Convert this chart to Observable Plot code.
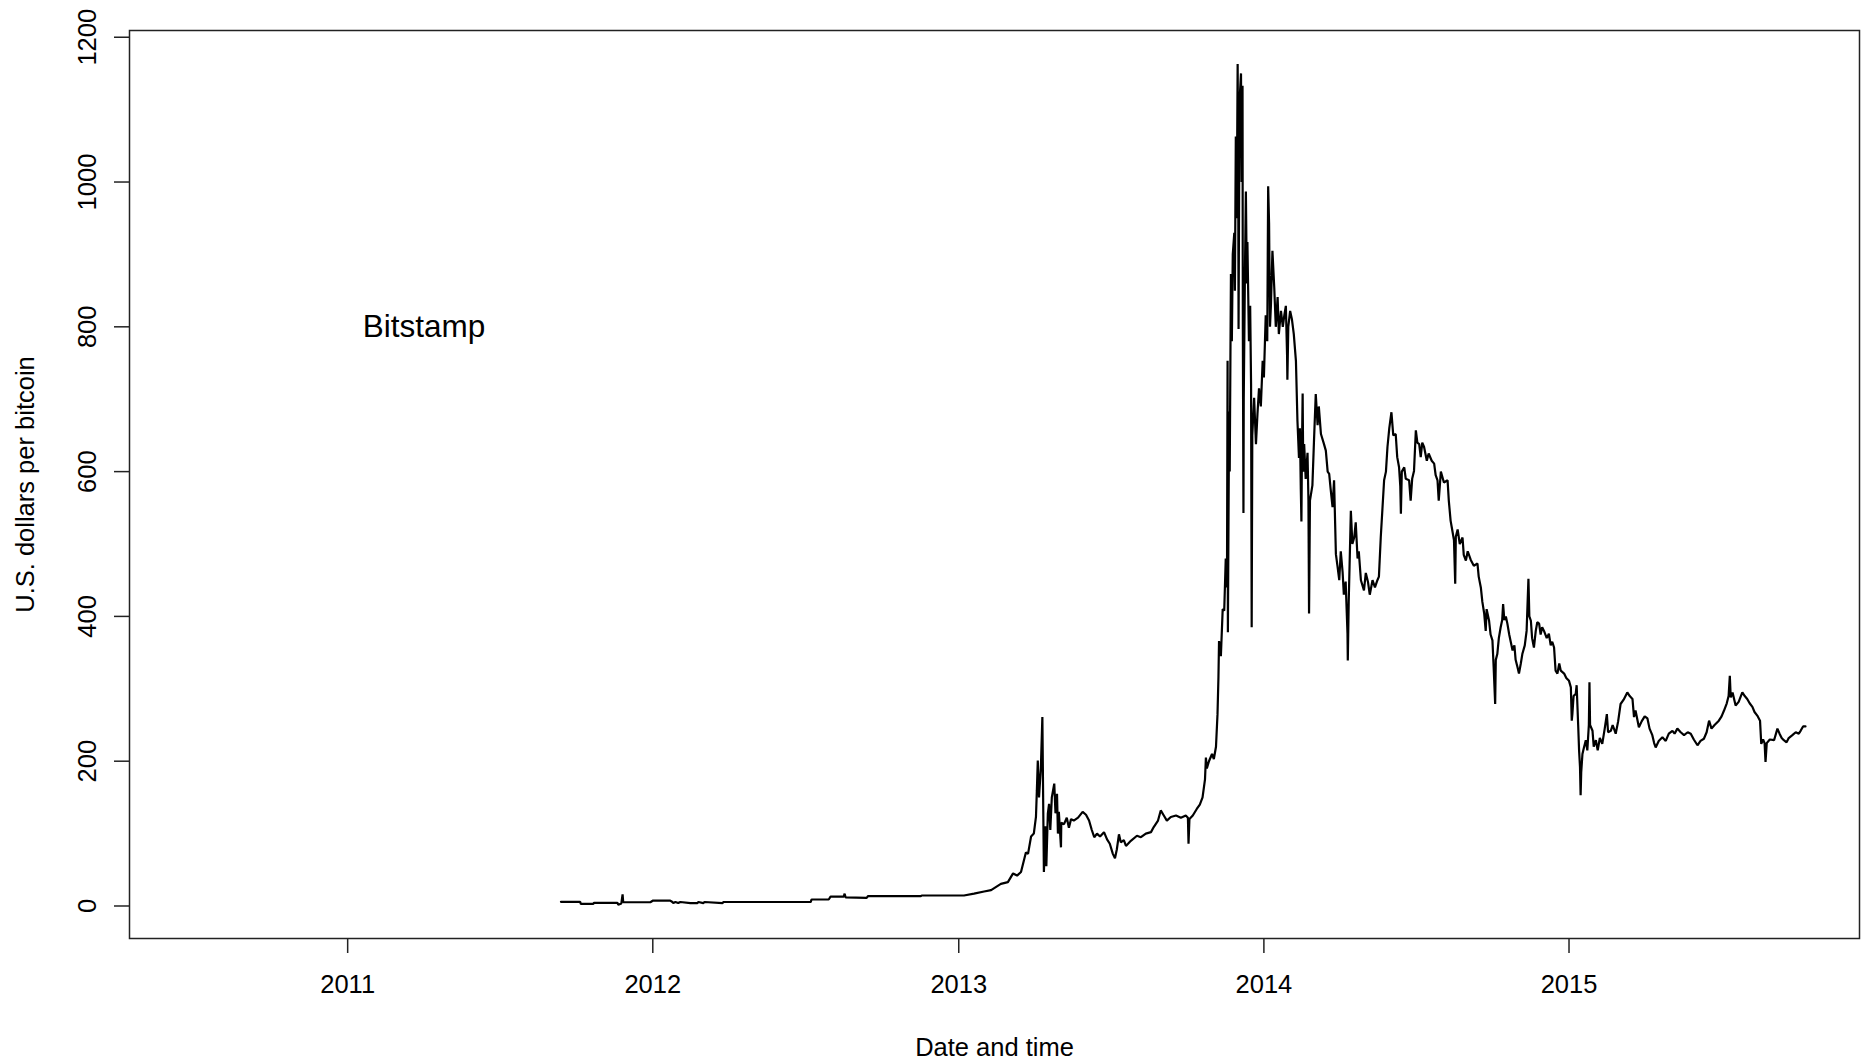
<!DOCTYPE html>
<html>
<head>
<meta charset="utf-8">
<script src="https://cdn.jsdelivr.net/npm/d3@7"></script>
<script src="https://cdn.jsdelivr.net/npm/@observablehq/plot@0.6"></script>
<style>
  html, body { margin: 0; padding: 0; background: #fff; overflow: hidden; }
</style>
</head>
<body>
<div id="chart"></div>
<script>
// Bitstamp BTC/USD price, times given as decimal years.
const t2011 = [2011.699, 2011.762, 2011.764, 2011.805, 2011.807, 2011.884, 2011.887, 2011.897, 2011.901, 2011.903, 2011.992];
const usd2011 = [5.8, 5.8, 3.0, 3.0, 4.4, 4.4, 1.8, 3.5, 16, 5.2, 5.2];

const t2012 = [2012.001, 2012.057, 2012.064, 2012.067, 2012.074, 2012.083, 2012.090, 2012.123, 2012.146, 2012.149,
  2012.165, 2012.169, 2012.228, 2012.231, 2012.516, 2012.519, 2012.575, 2012.581, 2012.624, 2012.627,
  2012.630, 2012.699, 2012.703, 2012.876, 2012.879];
const usd2012 = [7.5, 7.5, 5.5, 4.0, 5.5, 4.0, 5.5, 4.0, 4.0, 5.5,
  4.0, 5.5, 4.0, 5.5, 5.5, 9, 9, 13, 13, 17,
  12, 11.3, 13.5, 13.5, 14.5];

const t2013 = [2013.017, 2013.050, 2013.083, 2013.106, 2013.138, 2013.161, 2013.178, 2013.191, 2013.204, 2013.220,
  2013.227, 2013.237, 2013.246, 2013.253, 2013.256, 2013.259, 2013.263, 2013.269, 2013.274, 2013.277,
  2013.279, 2013.284, 2013.287, 2013.292, 2013.296, 2013.300, 2013.305, 2013.313, 2013.317, 2013.322,
  2013.325, 2013.328, 2013.335, 2013.336, 2013.345, 2013.354, 2013.361, 2013.368, 2013.377, 2013.391,
  2013.406, 2013.417, 2013.427, 2013.436, 2013.444, 2013.453, 2013.463, 2013.476, 2013.486, 2013.495,
  2013.505, 2013.512, 2013.518, 2013.525, 2013.531, 2013.541, 2013.548, 2013.564, 2013.584, 2013.597,
  2013.613, 2013.630, 2013.639, 2013.653, 2013.662, 2013.672, 2013.682, 2013.695, 2013.712, 2013.728,
  2013.744, 2013.751, 2013.753, 2013.756, 2013.767, 2013.780, 2013.790, 2013.799, 2013.807, 2013.810,
  2013.813, 2013.820, 2013.830, 2013.836, 2013.843, 2013.848, 2013.851, 2013.853, 2013.859, 2013.865,
  2013.870, 2013.875, 2013.879, 2013.881, 2013.882, 2013.886, 2013.888, 2013.892, 2013.895, 2013.898,
  2013.903, 2013.905, 2013.908, 2013.911, 2013.914, 2013.916, 2013.917, 2013.920, 2013.925, 2013.927,
  2013.930, 2013.931, 2013.933, 2013.934, 2013.938, 2013.941, 2013.944, 2013.946, 2013.951, 2013.955,
  2013.958, 2013.960, 2013.962, 2013.968, 2013.974, 2013.979, 2013.984, 2013.990, 2013.996];
const usd2013 = [14.5, 17, 20, 22, 30.6, 33, 45, 42, 47, 74,
  72, 96, 100, 123, 160, 201, 150, 190, 261, 130,
  47, 110, 55, 128, 141, 105, 150, 169, 128, 155,
  100, 130, 81, 115, 113, 122, 108, 120, 118, 122,
  130, 126, 118, 105, 95, 100, 96, 102, 92, 86,
  72, 66, 78, 99, 88, 91, 83, 90, 97, 95,
  100, 102, 109, 118, 132, 125, 118, 123, 125, 122,
  125, 122, 86, 120, 125, 134, 140, 150, 175, 205,
  190, 200, 210, 203, 220, 265, 315, 366, 345, 410,
  408, 480, 440, 753, 378, 683, 600, 873, 780, 900,
  930, 850, 1063, 950, 1163, 1000, 797, 1110, 1150, 1000,
  1133, 800, 543, 700, 880, 987, 860, 917, 780, 829,
  721, 385, 650, 702, 638, 680, 715, 690, 753];

const t2014 = [2014.000, 2014.006, 2014.011, 2014.014, 2014.017, 2014.020, 2014.023, 2014.028, 2014.034, 2014.039,
  2014.045, 2014.049, 2014.056, 2014.062, 2014.067, 2014.072, 2014.076, 2014.077, 2014.080, 2014.086,
  2014.092, 2014.098, 2014.105, 2014.110, 2014.115, 2014.118, 2014.121, 2014.123, 2014.125, 2014.127,
  2014.129, 2014.132, 2014.137, 2014.143, 2014.146, 2014.148, 2014.151, 2014.159, 2014.164, 2014.170,
  2014.176, 2014.180, 2014.187, 2014.197, 2014.203, 2014.209, 2014.214, 2014.219, 2014.225, 2014.230,
  2014.236, 2014.241, 2014.247, 2014.252, 2014.258, 2014.262, 2014.268, 2014.274, 2014.275, 2014.278,
  2014.285, 2014.290, 2014.296, 2014.301, 2014.307, 2014.311, 2014.318, 2014.328, 2014.334, 2014.341,
  2014.347, 2014.356, 2014.364, 2014.372, 2014.377, 2014.383, 2014.394, 2014.400, 2014.405, 2014.411,
  2014.418, 2014.424, 2014.432, 2014.437, 2014.443, 2014.447, 2014.449, 2014.452, 2014.460, 2014.465,
  2014.476, 2014.481, 2014.486, 2014.492, 2014.498, 2014.503, 2014.509, 2014.514, 2014.519, 2014.525,
  2014.534, 2014.540, 2014.550, 2014.558, 2014.563, 2014.569, 2014.573, 2014.580, 2014.590, 2014.602,
  2014.606, 2014.612, 2014.617, 2014.623, 2014.627, 2014.629, 2014.635, 2014.642, 2014.651, 2014.655,
  2014.662, 2014.668, 2014.678, 2014.688, 2014.700, 2014.704, 2014.711, 2014.716, 2014.722, 2014.727,
  2014.730, 2014.738, 2014.743, 2014.749, 2014.753, 2014.758, 2014.760, 2014.765, 2014.770, 2014.776,
  2014.781, 2014.784, 2014.788, 2014.793, 2014.798, 2014.804, 2014.809, 2014.815, 2014.821, 2014.825,
  2014.831, 2014.836, 2014.842, 2014.847, 2014.855, 2014.861, 2014.867, 2014.870, 2014.875, 2014.879,
  2014.885, 2014.891, 2014.896, 2014.902, 2014.907, 2014.912, 2014.918, 2014.927, 2014.934, 2014.940,
  2014.945, 2014.951, 2014.956, 2014.962, 2014.968, 2014.973, 2014.984, 2014.991];
const usd2014 = [730, 816, 780, 994, 943, 800, 829, 905, 854, 800,
  841, 790, 822, 800, 816, 829, 760, 727, 800, 822,
  810, 790, 753, 670, 619, 660, 575, 531, 640, 708,
  600, 638, 590, 626, 560, 404, 560, 581, 640, 707,
  664, 690, 652, 638, 629, 600, 597, 575, 551, 588,
  486, 470, 450, 490, 461, 430, 448, 376, 339, 420,
  546, 500, 509, 530, 480, 490, 450, 436, 460, 448,
  430, 450, 440, 450, 455, 509, 588, 600, 634, 660,
  682, 650, 652, 620, 606, 580, 542, 600, 606, 590,
  588, 560, 590, 601, 657, 640, 638, 620, 640, 634,
  615, 625, 615, 611, 595, 588, 560, 600, 585, 588,
  560, 532, 520, 505, 445, 510, 520, 500, 509, 485,
  477, 490, 478, 470, 473, 455, 440, 420, 404, 380,
  410, 394, 375, 367, 330, 279, 340, 348, 370, 385,
  395, 417, 395, 400, 390, 375, 365, 353, 360, 340,
  330, 321, 335, 348, 360, 380, 452, 400, 394, 370,
  357, 380, 392, 390, 375, 385, 380, 370, 376, 360,
  365, 357, 325, 321, 335, 325, 321, 315];

const t2015 = [2015.000, 2015.006, 2015.009, 2015.011, 2015.015, 2015.022, 2015.025, 2015.030, 2015.033, 2015.036,
  2015.038, 2015.040, 2015.044, 2015.049, 2015.055, 2015.060, 2015.065, 2015.067, 2015.069, 2015.077,
  2015.081, 2015.088, 2015.094, 2015.101, 2015.109, 2015.117, 2015.124, 2015.128, 2015.137, 2015.143,
  2015.153, 2015.161, 2015.169, 2015.179, 2015.191, 2015.199, 2015.208, 2015.213, 2015.218, 2015.229,
  2015.238, 2015.248, 2015.257, 2015.264, 2015.273, 2015.279, 2015.284, 2015.294, 2015.306, 2015.317,
  2015.327, 2015.339, 2015.346, 2015.355, 2015.366, 2015.377, 2015.389, 2015.399, 2015.409, 2015.421,
  2015.431, 2015.442, 2015.451, 2015.459, 2015.467, 2015.477, 2015.491, 2015.500, 2015.508, 2015.517,
  2015.523, 2015.527, 2015.530, 2015.536, 2015.546, 2015.556, 2015.568, 2015.576, 2015.584, 2015.592,
  2015.601, 2015.608, 2015.617, 2015.626, 2015.630, 2015.636, 2015.641, 2015.644, 2015.648, 2015.658,
  2015.672, 2015.683, 2015.690, 2015.697, 2015.704, 2015.713, 2015.720, 2015.732, 2015.743, 2015.753,
  2015.759, 2015.767, 2015.775];
const usd2015 = [311, 302, 256, 265, 290, 293, 305, 250, 215, 192,
  153, 185, 210, 219, 229, 215, 250, 309, 250, 242,
  220, 229, 215, 232, 224, 245, 265, 240, 242, 250,
  238, 255, 279, 285, 295, 290, 286, 261, 270, 247,
  255, 262, 259, 245, 236, 225, 219, 228, 233, 228,
  238, 242, 238, 245, 240, 236, 240, 238, 230, 222,
  228, 231, 240, 256, 245, 250, 256, 262, 270, 280,
  290, 318, 288, 295, 277, 282, 295, 290, 286, 280,
  275, 268, 263, 256, 224, 230, 225, 199, 225, 230,
  229, 245, 238, 232, 229, 226, 232, 236, 240, 238,
  242, 248, 248];

// Axis settings
const xLimits = [2010.285, 2015.952];
const yLimits = [-44.9, 1209.3];
const yearTicks = [2011, 2012, 2013, 2014, 2015];
const priceTicks = [0, 200, 400, 600, 800, 1000, 1200];
const exchangeName = "Bitstamp";
const exchangeLabelAt = {year: 2011.25, usd: 800};
const xTitle = "Date and time";
const yTitle = "U.S. dollars per bitcoin";

// Decimal year -> UTC Date
function toDate(d) {
  const y = Math.floor(d);
  const a = Date.UTC(y, 0, 1), b = Date.UTC(y + 1, 0, 1);
  return new Date(a + (d - y) * (b - a));
}

const times = [...t2011, ...t2012, ...t2013, ...t2014, ...t2015];
const prices = [...usd2011, ...usd2012, ...usd2013, ...usd2014, ...usd2015];
const series = times.map((t, i) => ({date: toDate(t), usd: prices[i]}));

const font = '"Liberation Sans", Arial, Helvetica, sans-serif';

const chart = Plot.plot({
  width: 1868,
  height: 1061,
  marginLeft: 129,
  marginRight: 9,
  marginTop: 30,
  marginBottom: 123,
  style: {fontFamily: font, fontSize: "25px", color: "#000", background: "#fff"},
  x: {type: "utc", domain: xLimits.map(toDate)},
  y: {domain: yLimits},
  marks: [
    Plot.axisX({
      ticks: yearTicks.map(toDate),
      tickFormat: d => String(d.getUTCFullYear()),
      tickSize: 15, tickPadding: 21,
      stroke: "#222", strokeWidth: 1.5, fill: "#000",
      fontSize: 25.5, label: null
    }),
    Plot.axisY({
      ticks: priceTicks,
      tickFormat: d => String(d),
      tickSize: 15, tickPadding: 19, tickRotate: -90,
      textAnchor: "middle", lineAnchor: "bottom",
      stroke: "#222", strokeWidth: 1.5, fill: "#000",
      fontSize: 25.5, label: null
    }),
    Plot.frame({stroke: "#222", strokeWidth: 1.5}),
    Plot.lineY(series, {x: "date", y: "usd", stroke: "#000", strokeWidth: 2.2, strokeLinejoin: "miter"}),
    Plot.text([{date: toDate(exchangeLabelAt.year), usd: exchangeLabelAt.usd, name: exchangeName}], {
      x: "date", y: "usd", text: "name", fontSize: 31.5, fill: "#000", lineAnchor: "middle"
    }),
    Plot.text([yTitle], {text: d => d, frameAnchor: "left", rotate: -90, dx: -96, textAnchor: "middle", lineAnchor: "bottom", fontSize: 25.5, fill: "#000"}),
    Plot.text([xTitle], {text: d => d, frameAnchor: "bottom", dy: 117, textAnchor: "middle", lineAnchor: "bottom", fontSize: 25.5, fill: "#000"})
  ]
});

document.getElementById("chart").appendChild(chart);
</script>
</body>
</html>
